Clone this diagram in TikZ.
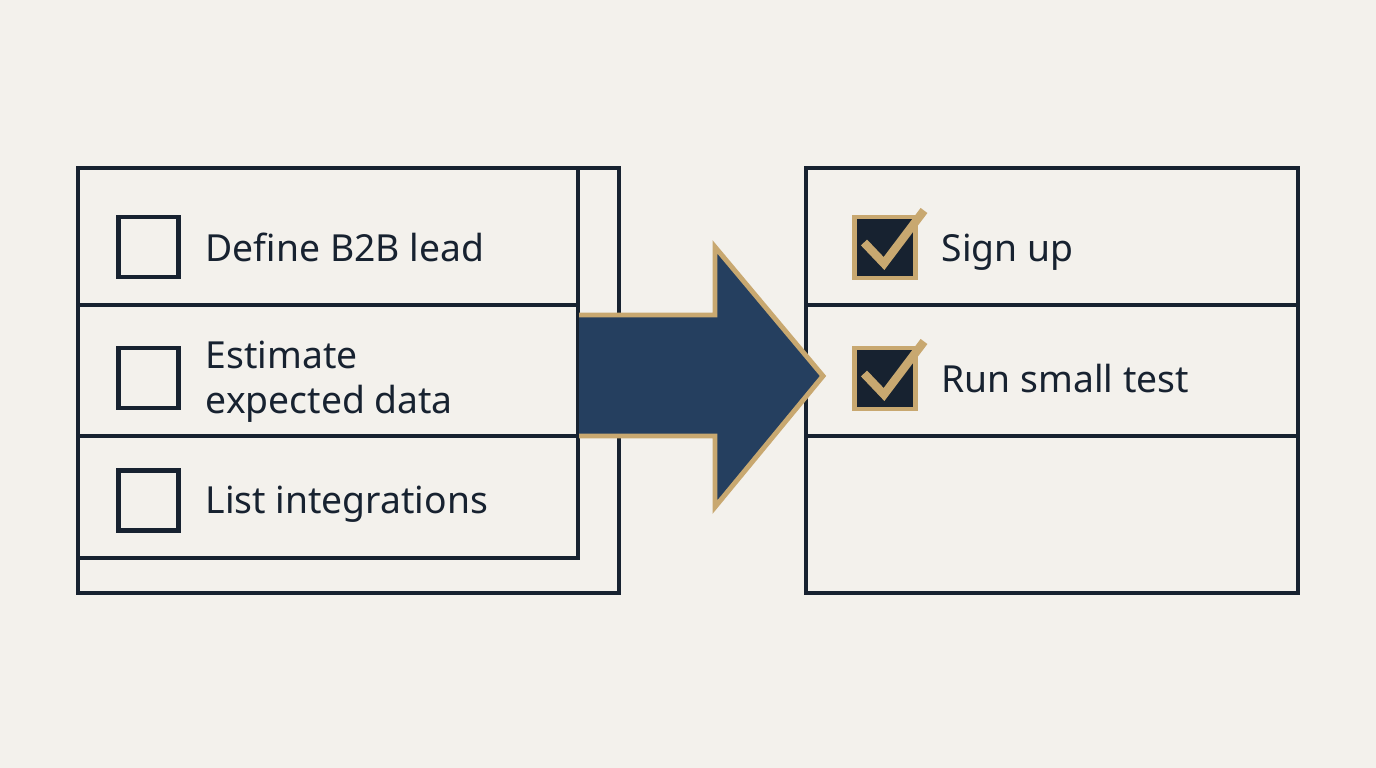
\documentclass[tikz,border=0pt]{standalone}
\usepackage{fontspec}
\setmainfont{Noto Sans}
\usepackage{tikz}
\usetikzlibrary{positioning,calc}

\definecolor{paper}{HTML}{F3F1EC}
\definecolor{ink}{HTML}{172230}
\definecolor{navy}{HTML}{253F5F}
\definecolor{gold}{HTML}{C8A870}

\begin{document}
\begin{tikzpicture}[x=0.01cm,y=-0.01cm,font=\fontsize{10.6pt}{12.8pt}\selectfont,
  frame/.style={draw=ink,line width=1pt},
  openbox/.style={draw=ink,line width=1.2pt,minimum size=0.6cm,inner sep=0pt},
  donebox/.style={draw=gold,fill=ink,line width=1.2pt,minimum size=0.61cm,inner sep=0pt},
  tick/.style={draw=gold,line width=2.4pt,line cap=butt,line join=miter},
  item/.style={anchor=base west,inner sep=0pt,align=left,text=ink}]
 \fill[paper] (0,0) rectangle (1376,768);
 \useasboundingbox (0,0) rectangle (1376,768);

 % left list: outer frame, inner frame, rows
 \draw[frame] (78,168) rectangle (619,593);
 \draw[frame] (78,168) rectangle (578,558);
 \draw[frame] (78,305) -- (578,305);
 \draw[frame] (78,436) -- (578,436);
 \node[openbox] (b1) at (148.5,247) {};
 \node[openbox] (b2) at (148.5,378) {};
 \node[openbox] (b3) at (148.5,500.5) {};
 \node[item] (t1) at (205,262) {Define B2B lead};
 \node[item] (t2) at (205,414) {Estimate\\expected data};
 \node[item] (t3) at (205,514) {List integrations};

 % right list
 \draw[frame] (806,168) rectangle (1298,593);
 \draw[frame] (806,305) -- (1298,305);
 \draw[frame] (806,436) -- (1298,436);
 \node[donebox] (c1) at (885,247.5) {};
 \node[donebox] (c2) at (885,378.5) {};
 \draw[tick] ($(c1)+(-21,-5)$) -- ($(c1)+(-1,16)$) -- ($(c1)+(39,-37)$);
 \draw[tick] ($(c2)+(-21,-5)$) -- ($(c2)+(-1,16)$) -- ($(c2)+(39,-37)$);
 \node[item] (s1) at (941,262) {Sign up};
 \node[item] (s2) at (941,393) {Run small test};

 % big arrow between the lists
 \coordinate (tail) at (579,315);
 \coordinate (tip) at (823,376);
 \filldraw[fill=navy,draw=gold,line width=1.4pt,line join=miter]
   (tail) -- (715,315) -- (715,247) -- (tip) -- (715,507) -- (715,436) -- (579,436);
\end{tikzpicture}
\end{document}
